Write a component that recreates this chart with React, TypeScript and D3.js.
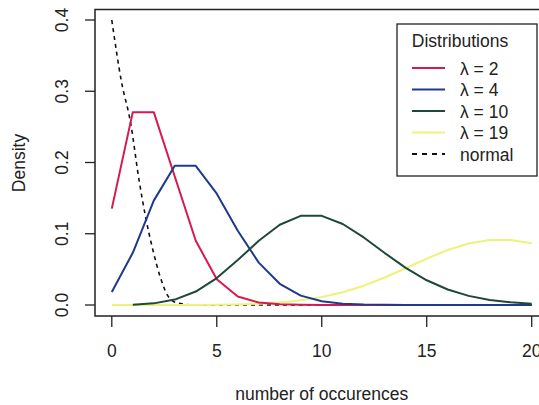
import React from "react";
import * as d3 from "d3";

const xs = [0,1,2,3,4,5,6,7,8,9,10,11,12,13,14,15,16,17,18,19,20];
const lambda2 = [0.1353,0.2707,0.2707,0.1804,0.0902,0.0361,0.0120,0.0034,0.0009,0.0002,0,0,0,0,0,0,0,0,0,0,0];
const lambda4 = [0.0183,0.0733,0.1465,0.1954,0.1954,0.1563,0.1042,0.0595,0.0298,0.0132,0.0053,0.0019,0.0006,0.0002,0.0001,0,0,0,0,0,0];
const lambda10 = [0.0000,0.0005,0.0023,0.0076,0.0189,0.0378,0.0631,0.0901,0.1126,0.1251,0.1251,0.1137,0.0948,0.0729,0.0521,0.0347,0.0217,0.0128,0.0071,0.0037,0.0019];
const lambda19 = [0,0,0,0,0.0001,0.0003,0.0008,0.0018,0.0035,0.0065,0.0112,0.0180,0.0271,0.0386,0.0516,0.0650,0.0773,0.0863,0.0911,0.0911,0.0866];
const normalX = [0,0.45,0.9,1.3,1.6,1.95,2.3,2.65,3,3.5,4,20];
const normalY = [0.400,0.315,0.255,0.175,0.125,0.078,0.040,0.014,0.004,0.001,0,0];
const xTicks = [0,5,10,15,20];
const yTicks = [0,0.1,0.2,0.3,0.4];

const series = [
  { label: "λ = 2", values: lambda2, color: "#d61a4e", start: 0 },
  { label: "λ = 4", values: lambda4, color: "#1e3a8c", start: 0 },
  { label: "λ = 10", values: lambda10, color: "#1f473a", start: 1 },
  { label: "λ = 19", values: lambda19, color: "#eef27a", start: 0 },
];

const W = 539, H = 405;
const FONT = "'Liberation Sans', Arial, Helvetica, sans-serif";
const FS = 17.5;

export default function App() {
  const x = d3.scaleLinear().domain([-0.8, 20.8]).range([95, 548.5]);
  const y = d3.scaleLinear().domain([-0.016, 0.416]).range([316.4, 8.6]);
  const line = d3.line<[number, number]>().x(d => x(d[0])).y(d => y(d[1]));
  const smooth = d3.line<[number, number]>().x(d => x(d[0])).y(d => y(d[1])).curve(d3.curveMonotoneX);
  const drawOrder = [3, 0, 1, 2];
  const legendItems = [
    ...series.map(s => ({ label: s.label, color: s.color, dash: "" })),
    { label: "normal", color: "#111", dash: "5,5" },
  ];
  return (
    <svg width={W} height={H} style={{ position: "absolute", left: 0, top: 0, background: "#fff" }} fontFamily={FONT}>
      <defs>
        <clipPath id="plotclip">
          <rect x={95} y={8.6} width={453} height={308} />
        </clipPath>
      </defs>
      <rect x={0} y={0} width={W} height={H} fill="#fff" />
      <g clipPath="url(#plotclip)">
        <path d={smooth(normalX.map((v, i) => [v, normalY[i]]) as [number, number][]) || ""} fill="none" stroke="#111" strokeWidth={1.6} strokeDasharray="4,4" />
        {drawOrder.map(i => {
          const s = series[i];
          const pts = xs.map((v, j) => [v, s.values[j]] as [number, number]).filter(p => p[0] >= s.start);
          return <path key={i} d={line(pts) || ""} fill="none" stroke={s.color} strokeWidth={2} strokeLinejoin="round" />;
        })}
      </g>
      <rect x={95} y={9.5} width={460} height={306.5} fill="none" stroke="#222" strokeWidth={1.5} />
      {xTicks.map(t => (
        <g key={t}>
          <line x1={x(t)} x2={x(t)} y1={316} y2={327} stroke="#222" strokeWidth={1.3} />
          <text x={x(t)} y={357} textAnchor="middle" fontSize={FS} fill="#222">{t}</text>
        </g>
      ))}
      {yTicks.map(t => (
        <g key={t}>
          <line x1={85} x2={95} y1={y(t)} y2={y(t)} stroke="#222" strokeWidth={1.3} />
          <text transform={`translate(68,${y(t)}) rotate(-90)`} textAnchor="middle" fontSize={FS} fill="#222">{t.toFixed(1)}</text>
        </g>
      ))}
      <text x={x(10)} y={400} textAnchor="middle" fontSize={FS} fill="#222">number of occurences</text>
      <text transform={`translate(25,163) rotate(-90)`} textAnchor="middle" fontSize={FS} fill="#222">Density</text>
      <rect x={397} y={24} width={140} height={152} fill="#fff" stroke="#222" strokeWidth={1.3} />
      <text x={460} y={47} textAnchor="middle" fontSize={FS} fill="#222">Distributions</text>
      {legendItems.map((it, i) => {
        const ly = 68 + i * 21.5;
        return (
          <g key={it.label}>
            <line x1={412} x2={445} y1={ly} y2={ly} stroke={it.color} strokeWidth={2} strokeDasharray={it.dash || undefined} />
            <text x={460} y={ly + 6.5} fontSize={FS} fill="#222">{it.label}</text>
          </g>
        );
      })}
    </svg>
  );
}
